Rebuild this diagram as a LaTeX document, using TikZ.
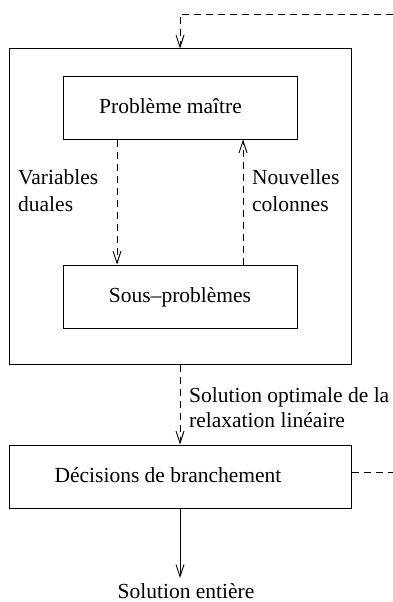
\documentclass[tikz,border=0pt]{standalone}
\usepackage{fontspec}
\setmainfont{Liberation Serif}
\usetikzlibrary{arrows.meta}
\tikzset{
  box/.style={draw, line width=1pt, rectangle, inner sep=0pt},
  lbl/.style={inner sep=0pt, font=\fontsize{21.5pt}{27pt}\selectfont},
  flow/.style={line width=0.9pt, -{Straight Barb[length=12pt,width=8pt,line width=0.9pt]}},
  dflow/.style={flow, dash pattern=on 7pt off 5pt},
  dline/.style={line width=0.9pt, dash pattern=on 7pt off 5pt}
}
\begin{document}
\begin{tikzpicture}[x=1pt,y=-1pt]
  \useasboundingbox (0,0) rectangle (393,602);

  % boxes
  \node[box, minimum width=342pt, minimum height=315pt] (outer) at (180,206.5) {};
  \node[box, minimum width=234pt, minimum height=63pt] (master) at (180,107.5) {};
  \node[box, minimum width=234pt, minimum height=63pt] (sub) at (180,296.5) {};
  \node[box, minimum width=342pt, minimum height=63pt] (branch) at (180,476.5) {};

  % box texts
  \node[lbl, anchor=base] (tmaster) at (170.5,113) {Problème maître};
  \node[lbl, anchor=base] (tsub) at (180,302) {Sous--problèmes};
  \node[lbl, anchor=base] (tbranch) at (168,482) {Décisions de branchement};

  % side labels
  \node[lbl, anchor=base west] (dual1) at (18,184) {Variables};
  \node[lbl, anchor=base west] (dual2) at (18,211) {duales};
  \node[lbl, anchor=base west] (col1) at (252,184) {Nouvelles};
  \node[lbl, anchor=base west] (col2) at (252,211) {colonnes};
  \node[lbl, anchor=base west] (sol1) at (189,402) {Solution optimale de la};
  \node[lbl, anchor=base west] (sol2) at (189,427) {relaxation linéaire};
  \node[lbl, anchor=base] (final) at (186,598) {Solution entière};

  % loop between master and subproblems
  \draw[dflow] ([xshift=-63pt]master.south) -- ([xshift=-63pt]sub.north);
  \draw[dflow] ([xshift=63pt]sub.north) -- ([xshift=63pt]master.south);

  % incoming feedback from branching
  \coordinate (feedin) at (393,14);
  \draw[dflow] (feedin) -| (outer.north);

  % LP solution to branching decisions
  \draw[dflow] (outer.south) -- (branch.north);

  % outgoing feedback
  \coordinate (feedout) at (393,472);
  \draw[dline] (branch.east |- feedout) -- (feedout);

  % integer solution
  \coordinate (endtip) at (180,578);
  \draw[flow] (branch.south) -- (endtip);
\end{tikzpicture}
\end{document}
